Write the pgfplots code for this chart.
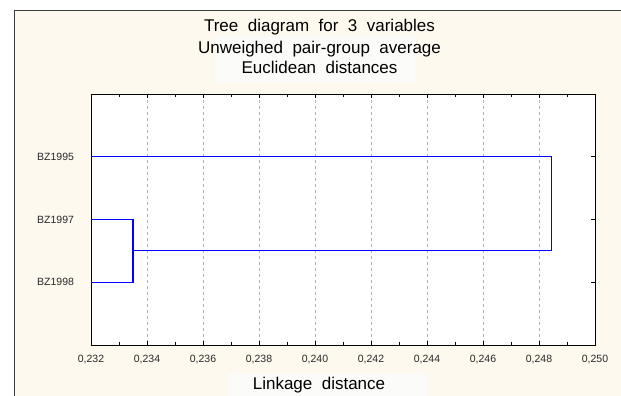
\documentclass[border=0pt]{standalone}
\usepackage{pgfplots}
\pgfplotsset{compat=1.18}
\usepackage{fontspec}
\setmainfont{Liberation Sans}
\definecolor{cream}{RGB}{253,249,238}
\definecolor{boxwhite}{RGB}{251,251,250}
\definecolor{framegray}{RGB}{60,60,60}
\definecolor{ticktext}{RGB}{40,40,40}
\begin{document}
\begin{tikzpicture}[x=1pt,y=1pt]
\useasboundingbox (0,0) rectangle (621,396);
\fill[white] (0,0) rectangle (621,396);
\fill[cream] (14,0) rectangle (621,385);
\fill[boxwhite] (215,313) rectangle (415,360);
\fill[boxwhite] (228,0) rectangle (426.7,23);
\draw[framegray, line width=1pt] (14,0) -- (14,385) -- (621,385);
\begin{axis}[
  at={(91pt,51pt)}, anchor=south west,
  scale only axis, width=504pt, height=251pt,
  xmin=0.232, xmax=0.250, ymin=0, ymax=4,
  y dir=reverse,
  axis background/.style={fill=white},
  axis line style={black, line width=0.9pt},
  xtick distance=0.002,
  minor x tick num=1,
  tick align=inside,
  major tick length=4pt, minor tick length=3pt,
  tick style={black, line width=0.7pt},
  ytick={1,2,3},
  yticklabels={BZ1995,BZ1997,BZ1998},
  ytick pos=right,
  yticklabel pos=left,
  xmajorgrids,
  grid style={gray!60, dashed, line width=0.5pt},
  /pgf/number format/.cd, fixed, fixed zerofill, precision=3, use comma, assume math mode=true,
  /pgfplots/.cd,
  ticklabel style={font=\fontsize{10.5}{12}\selectfont, text=ticktext},
  xticklabel style={yshift=-6.5pt},
  yticklabel style={xshift=-13.5pt},
  scaled x ticks=false,
  clip=false,
]
\addplot[blue, line width=1.2pt, mark=none] coordinates {
  (0.232,2) (0.2335,2) (0.2335,3) (0.232,3)
};
\addplot[blue, line width=1.2pt, mark=none] coordinates {
  (0.232,1) (0.24845,1) (0.24845,2.5) (0.2335,2.5)
};
\end{axis}
\node[anchor=base, font=\fontsize{17}{20}\selectfont] at (319.5,364.3) {Tree\ \ diagram\ \ for\ \ 3\ \ variables};
\node[anchor=base, font=\fontsize{17}{20}\selectfont] at (319.5,342.7) {Unweighed\ \ pair-group\ \ average};
\node[anchor=base, font=\fontsize{17}{20}\selectfont] at (319.5,322) {Euclidean\ \ distances};
\node[anchor=base, font=\fontsize{17}{20}\selectfont] at (319,6) {Linkage\ \ distance};
\end{tikzpicture}
\end{document}
